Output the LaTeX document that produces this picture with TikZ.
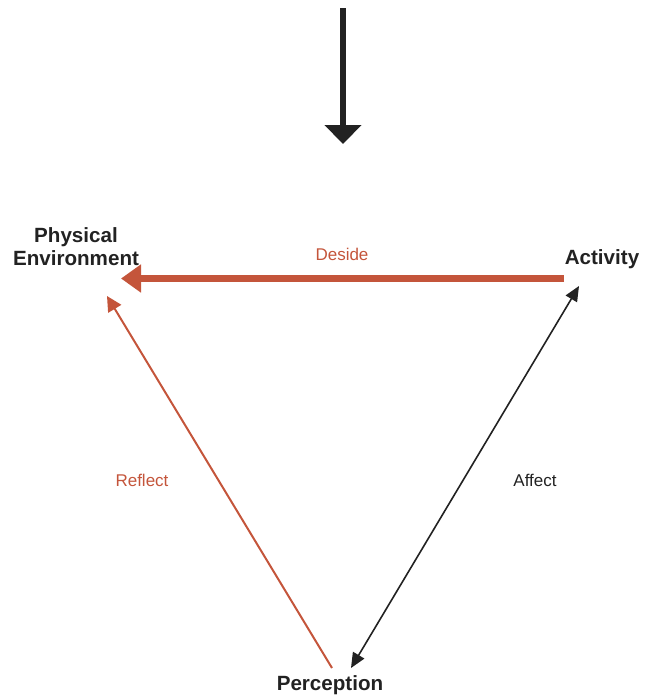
\documentclass[tikz,border=0pt]{standalone}
\usepackage{fontspec}
\setmainfont{Liberation Sans}
\usetikzlibrary{arrows.meta}
\definecolor{rust}{HTML}{C4553B}
\definecolor{ink}{HTML}{222222}
\begin{document}
\begin{tikzpicture}[x=1pt,y=-1pt,
  vertex/.style={font=\fontsize{20.6}{23}\selectfont\bfseries, text=ink, align=center, inner sep=0pt},
  edgelabel/.style={font=\fontsize{17}{19}\selectfont, inner sep=0pt}]
\useasboundingbox (0,0) rectangle (652,696);
% vertices of the triangle
\node[vertex] (env) at (76,247) {Physical\\Environment};
\node[vertex] (act) at (602,259) {Activity};
\node[vertex] (per) at (330,685) {Perception};
% connector end points
\coordinate (topA) at (343,8);
\coordinate (topB) at (343,144);
\coordinate (decA) at (564,278.5);
\coordinate (decB) at (121,278.5);
\coordinate (refA) at (332,668);
\coordinate (refB) at (107,296);
\coordinate (affA) at (579,286);
\coordinate (affB) at (351,668);
% incoming arrow
\draw[ink, line width=6pt, -{Triangle[length=19pt,width=36pt]}] (topA) -- (topB);
% Deside
\draw[rust, line width=7pt, -{Triangle[length=20pt,width=27pt]}] (decA) -- (decB);
\node[edgelabel, text=rust] (lblD) at (342,254) {Deside};
% Reflect
\draw[rust, line width=2pt, -{Triangle[length=15pt,width=15pt]}] (refA) -- (refB);
\node[edgelabel, text=rust] (lblR) at (142,480) {Reflect};
% Affect
\draw[ink, line width=1.6pt, {Triangle[length=15pt,width=13pt]}-{Triangle[length=15pt,width=13pt]}] (affB) -- (affA);
\node[edgelabel, text=ink] (lblA) at (535,480) {Affect};
\end{tikzpicture}
\end{document}
